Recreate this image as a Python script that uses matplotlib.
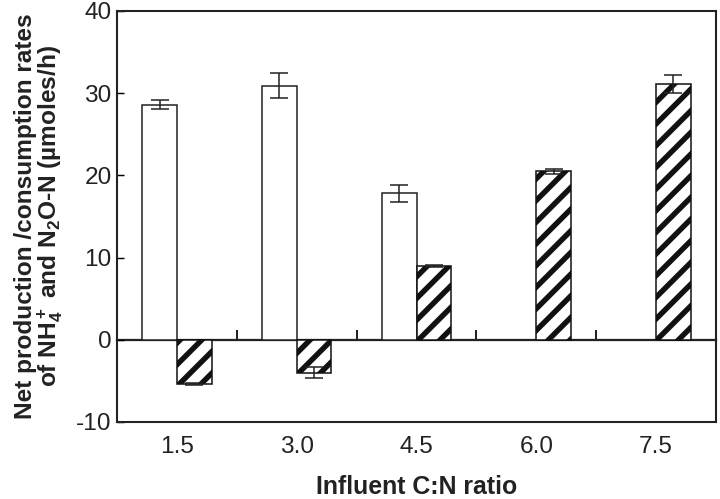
import matplotlib
matplotlib.use("Agg")
import matplotlib.pyplot as plt
import numpy as np

categories = ["1.5", "3.0", "4.5", "6.0", "7.5"]
nh4_values = [28.6, 30.9, 17.8, 0.0, 0.0]
nh4_errors = [0.55, 1.5, 1.0, 0.0, 0.0]
n2o_values = [-5.4, -4.0, 9.0, 20.5, 31.1]
n2o_errors = [0.1, 0.65, 0.1, 0.3, 1.1]
y_ticks = [-10, 0, 10, 20, 30, 40]

DPI = 130
plt.rcParams['font.family'] = ['Liberation Sans', 'DejaVu Sans']
plt.rcParams['mathtext.fontset'] = 'custom'
plt.rcParams['mathtext.rm'] = 'Liberation Sans:bold'
plt.rcParams['mathtext.default'] = 'rm'
plt.rcParams['hatch.linewidth'] = 3.0
plt.rcParams['hatch.color'] = 'black'

fig = plt.figure(figsize=(720/DPI, 499/DPI), dpi=DPI)
ax = fig.add_axes([117/720, 1-422/499, (716-117)/720, (422-11)/499])

x = np.arange(len(categories))
w = 0.29
ekw = dict(elinewidth=0.85, capthick=0.85, ecolor='#222222')
show_nh4 = [v != 0 for v in nh4_values]
ax.bar(x[show_nh4] - w/2, np.array(nh4_values)[show_nh4], w,
       yerr=np.array(nh4_errors)[show_nh4], color='white', edgecolor='#222222',
       linewidth=0.85, capsize=5.2, error_kw=ekw, zorder=2)
ax.bar(x + w/2, n2o_values, w, yerr=n2o_errors, color='white', edgecolor='#111111',
       hatch='//', linewidth=0.85, capsize=5.2, error_kw=ekw, zorder=2)

ax.set_xlim(-0.5, len(categories) - 0.5)
ax.set_ylim(-10, 40)
ax.set_yticks(y_ticks)
ax.set_yticklabels([str(t) for t in y_ticks], fontsize=13.5, color='#222222')
ax.set_xticks(x)
ax.set_xticklabels(categories, fontsize=13.5, color='#222222')
ax.tick_params(axis='x', length=0, pad=7.5)
ax.tick_params(axis='y', length=4, width=0.8, direction='in', pad=3)

for s in ax.spines.values():
    s.set_linewidth(1.15)
    s.set_color('#222222')

# zero line with boundary ticks
sec = ax.secondary_xaxis(0.2)
sec.set_xticks(x[:-1] + 0.5)
sec.set_xticklabels([])
sec.tick_params(axis='x', direction='in', length=5.5, width=1.1, color='#222222')
sec.spines['bottom'].set_linewidth(1.25)
sec.spines['bottom'].set_color('#222222')

ax.set_xlabel("Influent C:N ratio", fontsize=13.8, fontweight='bold', labelpad=9.5, color='#222222')
ax.set_ylabel("Net production /consumption rates\nof NH$_4^+$ and N$_2$O-N (µmoles/h)",
              fontsize=13.5, fontweight='bold', labelpad=6, color='#222222',
              linespacing=0.95)

fig.savefig("out.png", dpi=DPI)
